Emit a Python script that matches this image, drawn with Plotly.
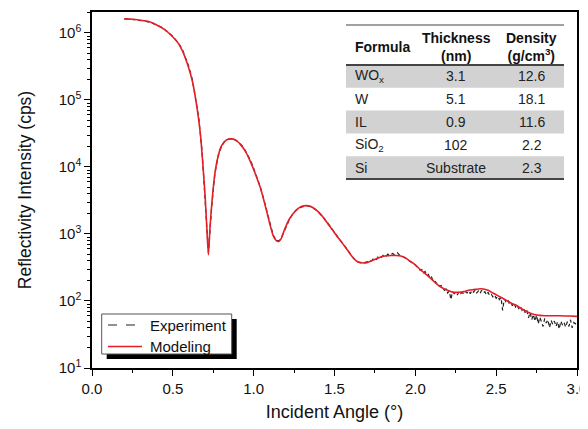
import numpy as np
import plotly.graph_objects as go

# ---------------- data ----------------
model_x = [0.20, 0.25, 0.30, 0.35, 0.40, 0.45, 0.50, 0.53, 0.56, 0.59, 0.62, 0.65, 0.67, 0.69, 0.70,
           0.71, 0.72, 0.73, 0.74, 0.76, 0.78, 0.80, 0.83, 0.86, 0.89, 0.92, 0.95, 0.98, 1.01, 1.04,
           1.07, 1.10, 1.12, 1.14, 1.155, 1.17, 1.19, 1.22, 1.25, 1.28, 1.31, 1.34, 1.37, 1.40, 1.43,
           1.46, 1.49, 1.52, 1.55, 1.58, 1.61, 1.64, 1.67, 1.70, 1.73, 1.76, 1.79, 1.82, 1.85, 1.88,
           1.91, 1.94, 1.97, 2.00, 2.03, 2.06, 2.09, 2.12, 2.15, 2.18, 2.21, 2.24, 2.27, 2.30, 2.33,
           2.36, 2.39, 2.42, 2.45, 2.48, 2.51, 2.54, 2.57, 2.60, 2.63, 2.66, 2.69, 2.72, 2.75, 2.80,
           2.85, 2.90, 2.95, 3.00]
model_log = [6.21, 6.205, 6.19, 6.17, 6.12, 6.05, 5.94, 5.86, 5.73, 5.54, 5.29, 4.88, 4.50, 3.90, 3.55,
             3.10, 2.69, 3.10, 3.42, 3.90, 4.16, 4.31, 4.40, 4.42, 4.40, 4.33, 4.23, 4.08, 3.90, 3.70,
             3.44, 3.15, 2.98, 2.90, 2.89, 2.93, 3.06, 3.22, 3.32, 3.39, 3.42, 3.42, 3.39, 3.33, 3.25,
             3.15, 3.05, 2.95, 2.86, 2.76, 2.66, 2.59, 2.57, 2.57, 2.60, 2.63, 2.66, 2.675, 2.68, 2.68,
             2.67, 2.64, 2.59, 2.54, 2.47, 2.41, 2.35, 2.28, 2.22, 2.18, 2.15, 2.13, 2.13, 2.14, 2.16,
             2.17, 2.18, 2.18, 2.16, 2.12, 2.08, 2.04, 2.00, 1.96, 1.93, 1.88, 1.84, 1.81, 1.79, 1.78,
             1.78, 1.78, 1.775, 1.77]

# experiment: sampling grid (0.02 step to 1.70, then 0.01 step to 3.00)
exp_x = np.round(np.concatenate([np.arange(0.20, 1.701, 0.02), np.arange(1.71, 3.001, 0.01)]), 3)
exp_log = [
    6.21, 6.21, 6.20, 6.20, 6.19, 6.19, 6.18, 6.17, 6.16, 6.14, 6.12, 6.10, 6.07, 6.03, 5.99, 5.95,
    5.89, 5.83, 5.75, 5.63, 5.49, 5.31, 5.05, 4.74, 4.26, 3.53, 2.72, 3.40, 3.90, 4.16, 4.30, 4.38,
    4.41, 4.42, 4.41, 4.38, 4.34, 4.28, 4.20, 4.10, 3.98, 3.85, 3.71, 3.54, 3.35, 3.16, 2.99, 2.90,
    2.90, 2.99, 3.11, 3.21, 3.29, 3.35, 3.39, 3.41, 3.42, 3.42, 3.40, 3.37, 3.33, 3.28, 3.22, 3.16,
    3.09, 3.02, 2.95, 2.89, 2.83, 2.76, 2.69, 2.63, 2.59, 2.57, 2.57, 2.58,
    # 1.71 .. 3.00
    2.59, 2.61, 2.60, 2.63, 2.64, 2.62, 2.66, 2.67, 2.65, 2.68,
    2.69, 2.67, 2.70, 2.68, 2.70, 2.71, 2.69, 2.71, 2.72, 2.69,
    2.68, 2.67, 2.65, 2.64, 2.62, 2.60, 2.59, 2.57, 2.55, 2.54,
    2.51, 2.50, 2.46, 2.47, 2.42, 2.44, 2.39, 2.40, 2.34, 2.36,
    2.30, 2.31, 2.26, 2.27, 2.22, 2.23, 2.19, 2.16, 2.18, 2.12,
    2.15, 2.02, 2.14, 2.11, 2.13, 2.09, 2.14, 2.11, 2.13, 2.10,
    2.14, 2.12, 2.15, 2.11, 2.16, 2.13, 2.17, 2.12, 2.15, 2.11,
    2.16, 2.12, 2.14, 2.09, 2.13, 2.08, 2.10, 2.06, 2.09, 2.04,
    2.07, 2.02, 2.05, 1.86, 2.03, 1.99, 2.02, 1.97, 1.99, 1.93,
    1.97, 1.91, 1.94, 1.88, 1.92, 1.86, 1.89, 1.82, 1.86, 1.75,
    1.83, 1.72, 1.80, 1.70, 1.79, 1.66, 1.76, 1.69, 1.62, 1.74,
    1.67, 1.72, 1.60, 1.71, 1.65, 1.70, 1.62, 1.69, 1.58, 1.70,
    1.64, 1.68, 1.61, 1.69, 1.62, 1.72, 1.60, 1.68, 1.66, 1.70,
]

y_tick_vals = [1e1, 1e2, 1e3, 1e4, 1e5, 1e6]
y_tick_text = ["10<sup>1</sup>", "10<sup>2</sup>", "10<sup>3</sup>", "10<sup>4</sup>",
               "10<sup>5</sup>", "10<sup>6</sup>"]

legend_names = ["Experiment", "Modeling"]

table_header = ["Formula", "Thickness<br>(nm)", "Density<br>(g/cm<sup>3</sup>)"]
formulas = ["WO<sub>x</sub>", "W", "IL", "SiO<sub>2</sub>", "Si"]
thickness = ["3.1", "5.1", "0.9", "102", "Substrate"]
density = ["12.6", "18.1", "11.6", "2.2", "2.3"]

# ---------------- figure ----------------
OFF = 8                      # page body margin of the html page
W, H = 588 - OFF, 429 - OFF
ML, MR, MT, MB = 92 - OFF, 11, 12 - OFF, 61
PW, PH = W - ML - MR, H - MT - MB
P_LEFT, P_BOTTOM = OFF + ML, OFF + H - MB   # page pixel coords of the plot origin


def px(x):
    return (x - P_LEFT) / PW


def py(y):
    return (P_BOTTOM - y) / PH


FONT = "Liberation Sans, Arial, sans-serif"
EXP_COLOR = "#222222"
MOD_COLOR = "#e41e26"
EXP_DASH = "4px,3px"

fig = go.Figure()
fig.add_trace(go.Scatter(x=exp_x, y=[10 ** v for v in exp_log], mode="lines", name=legend_names[0],
                         line=dict(color=EXP_COLOR, width=1.2, dash=EXP_DASH)))
fig.add_trace(go.Scatter(x=model_x, y=[10 ** v for v in model_log], mode="lines", name=legend_names[1],
                         line=dict(color=MOD_COLOR, width=1.6, shape="spline", smoothing=0.6)))

shapes = []
annotations = []

# legend (drawn box with drop shadow)
lg_l, lg_r, lg_t, lg_b = 101.7, 231.7, 314, 354
shapes.append(dict(type="rect", xref="paper", yref="paper", x0=px(lg_l + 5), x1=px(lg_r + 5),
                   y0=py(lg_b + 5), y1=py(lg_t + 5), fillcolor="black", line=dict(width=0),
                   layer="above"))
shapes.append(dict(type="rect", xref="paper", yref="paper", x0=px(lg_l), x1=px(lg_r),
                   y0=py(lg_b), y1=py(lg_t), fillcolor="white", line=dict(color="#555555", width=1),
                   layer="above"))
for k, (yy, col, dash, lw) in enumerate([(325, EXP_COLOR, "dash", 1.2), (346.5, MOD_COLOR, "solid", 1.6)]):
    shapes.append(dict(type="line", xref="paper", yref="paper", x0=px(108), x1=px(142),
                       y0=py(yy), y1=py(yy), line=dict(color=col, width=lw, dash=dash),
                       layer="above"))
    annotations.append(dict(text=legend_names[k], x=px(147.5), y=py(yy), xref="paper", yref="paper",
                            xanchor="left", yanchor="middle", showarrow=False,
                            font=dict(family=FONT, size=15, color="#111111")))

# table
t_left, t_right = 346, 564
row_top = 65
row_h = 22.8
for i in range(len(formulas)):
    if i % 2 == 0:
        shapes.append(dict(type="rect", xref="paper", yref="paper", x0=px(t_left), x1=px(t_right),
                           y0=py(row_top + (i + 1) * row_h), y1=py(row_top + i * row_h),
                           fillcolor="#d2d2d2", line=dict(width=0), layer="below"))
for yy, lw in [(25, 1.2), (row_top, 2), (row_top + len(formulas) * row_h, 2)]:
    shapes.append(dict(type="line", xref="paper", yref="paper", x0=px(t_left), x1=px(t_right),
                       y0=py(yy), y1=py(yy), line=dict(color="#444444", width=lw)))

col_x = [352.7, 456, 531.7]
annotations.append(dict(text="<b>" + table_header[0] + "</b>", x=px(col_x[0]), y=py(46.5),
                        xref="paper", yref="paper", xanchor="left", yanchor="middle", showarrow=False,
                        font=dict(family=FONT, size=14, color="#111111")))
for j in (1, 2):
    annotations.append(dict(text="<b>" + table_header[j] + "</b>", x=px(col_x[j]), y=py(46.5),
                            xref="paper", yref="paper", xanchor="center", yanchor="middle",
                            showarrow=False, font=dict(family=FONT, size=14, color="#111111")))
for i in range(len(formulas)):
    yc = py(row_top + (i + 0.5) * row_h)
    annotations.append(dict(text=formulas[i], x=px(col_x[0]), y=yc, xref="paper", yref="paper",
                            xanchor="left", yanchor="middle", showarrow=False,
                            font=dict(family=FONT, size=14, color="#222222")))
    annotations.append(dict(text=thickness[i], x=px(col_x[1]), y=yc, xref="paper", yref="paper",
                            xanchor="center", yanchor="middle", showarrow=False,
                            font=dict(family=FONT, size=14, color="#222222")))
    annotations.append(dict(text=density[i], x=px(col_x[2]), y=yc, xref="paper", yref="paper",
                            xanchor="center", yanchor="middle", showarrow=False,
                            font=dict(family=FONT, size=14, color="#222222")))

minor_vals = [m * 10 ** d for d in range(1, 7) for m in range(2, 10)]

fig.update_layout(
    width=W, height=H,
    margin=dict(l=ML, r=MR, t=MT, b=MB, autoexpand=False),
    paper_bgcolor="white", plot_bgcolor="white",
    font=dict(family=FONT, size=15, color="#111111"),
    showlegend=False,
    shapes=shapes, annotations=annotations,
    xaxis=dict(range=[0, 3], dtick=0.5, tick0=0, tickformat=".1f",
               showline=True, linecolor="black", linewidth=1.5, mirror=True,
               ticks="outside", ticklen=6, tickwidth=1.3, tickcolor="black",
               showgrid=False, zeroline=False,
               minor=dict(dtick=0.25, tick0=0, ticks="outside", ticklen=3, tickwidth=1.2,
                          tickcolor="black", showgrid=False),
               title=dict(text="Incident Angle (°)", font=dict(family=FONT, size=18), standoff=10),
               tickfont=dict(family=FONT, size=15)),
    yaxis=dict(type="log", range=[1, 6.313], tickmode="array", tickvals=y_tick_vals,
               ticktext=y_tick_text,
               showline=True, linecolor="black", linewidth=1.5, mirror=True,
               ticks="outside", ticklen=6, tickwidth=1.3, tickcolor="black",
               showgrid=False, zeroline=False,
               minor=dict(tickmode="array", tickvals=minor_vals, ticks="outside", ticklen=3,
                          tickwidth=1.2, tickcolor="black", showgrid=False),
               title=dict(text="Reflectivity Intensity (cps)", font=dict(family=FONT, size=17.5),
                          standoff=23),
               tickfont=dict(family=FONT, size=15)),
)

fig.write_html("out.html")
